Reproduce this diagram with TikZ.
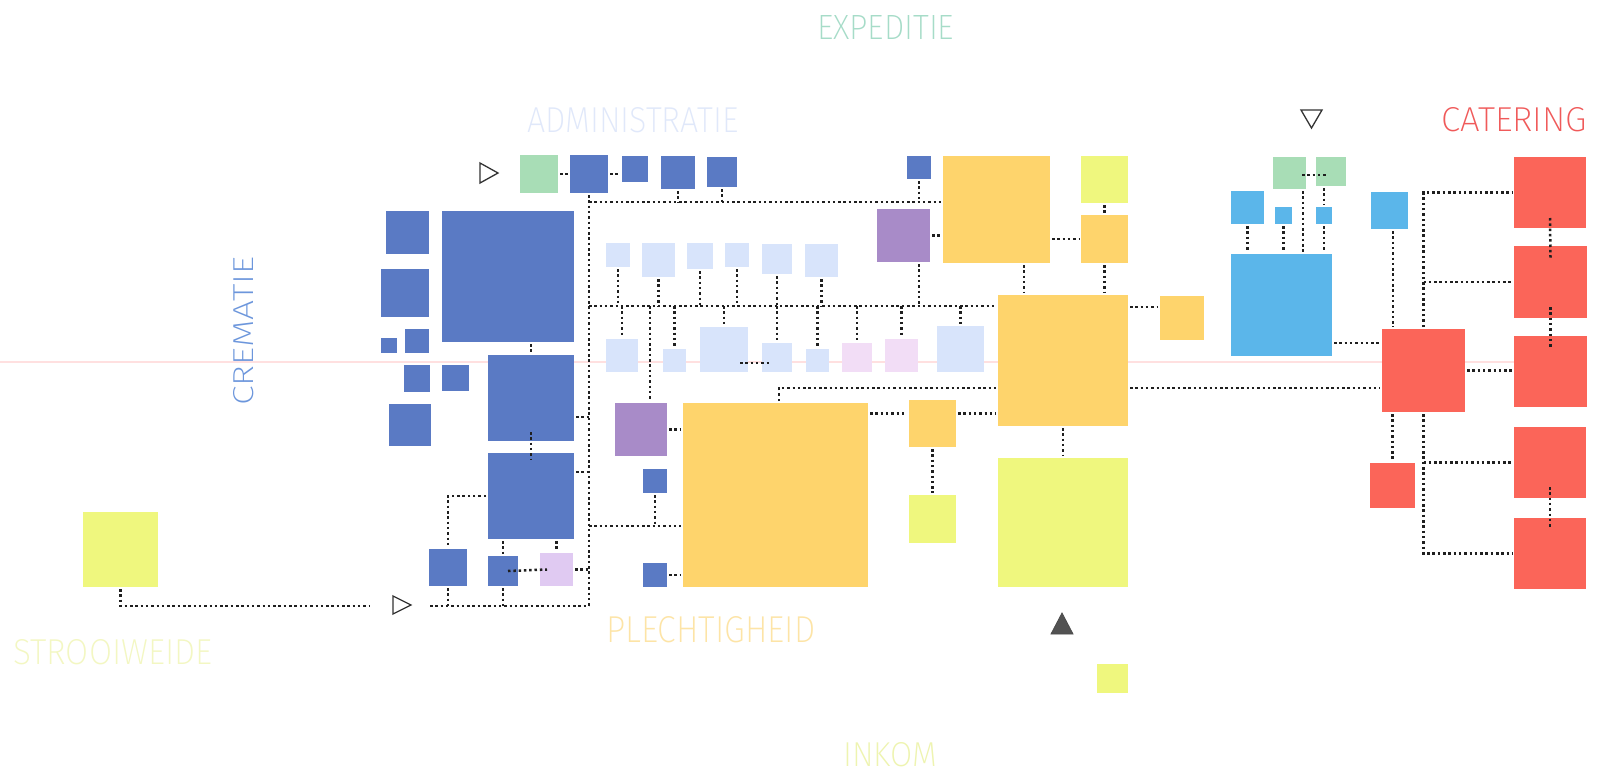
\documentclass[tikz,border=0pt]{standalone}
\usepackage{fontspec}
\usepackage{graphicx}
\IfFontExistsTF{Fira Sans ExtraLight}{\newfontfamily\lab{Fira Sans ExtraLight}}{%
 \IfFontExistsTF{Fira Sans Thin}{\newfontfamily\lab{Fira Sans Thin}}{%
  \IfFontExistsTF{Fira Sans Light}{\newfontfamily\lab{Fira Sans Light}}{\newfontfamily\lab{Fira Sans}}}}
\definecolor{cB}{HTML}{5A7AC4}
\definecolor{cG}{HTML}{A8DDB6}
\definecolor{cLB}{HTML}{D8E4FB}
\definecolor{cPk}{HTML}{F2DDF6}
\definecolor{cLav}{HTML}{E0CAF2}
\definecolor{cPu}{HTML}{A88BC8}
\definecolor{cY}{HTML}{FED46C}
\definecolor{cL}{HTML}{EFF77E}
\definecolor{cC}{HTML}{5BB6EA}
\definecolor{cR}{HTML}{FB6559}
\definecolor{tExp}{HTML}{A6DCC8}
\definecolor{tAdm}{HTML}{E0E8FA}
\definecolor{tCat}{HTML}{F05A5A}
\definecolor{tCre}{HTML}{6C96DC}
\definecolor{tPle}{HTML}{FDE4A6}
\definecolor{tStr}{HTML}{F3F7C2}
\definecolor{tInk}{HTML}{EEF4B0}
\tikzset{
  box/.style={rectangle, inner sep=0pt, outer sep=2pt, draw=none, anchor=north west},
  dl/.style={line width=2.5pt, dash pattern=on 2.5pt off 2.8pt, draw=black!88},
  tri/.style={draw=black!80, line width=1.3pt, fill=white, line join=miter},
  lbl/.style={inner sep=0pt, anchor=base west},
}
\newcommand\bx[6]{\node[box, fill=#6, minimum width=#4pt-#2pt, minimum height=#5pt-#3pt] (#1) at ({#2-2},{#3-2}) {};}
\begin{document}
\begin{tikzpicture}[x=1pt,y=-1pt]
\useasboundingbox (0,0) rectangle (1603,774);
\fill[white] (0,0) rectangle (1603,774);
% faint scan line
\draw[line width=1.2pt, draw=red!20, opacity=0.6] (0,362) -- (1570,362);
% ---- labels
\node[lbl, text=tExp] (lExp) at (817,39) {\resizebox{137pt}{24pt}{\lab EXPEDITIE}};
\node[lbl, text=tAdm] (lAdm) at (527,132) {\resizebox{211pt}{25pt}{\lab ADMINISTRATIE}};
\node[lbl, text=tCat] (lCat) at (1441,131) {\resizebox{146pt}{24pt}{\lab CATERING}};
\node[lbl, text=tCre, rotate=90] (lCre) at (253,406) {\resizebox{149pt}{20pt}{\lab CREMATIE}};
\node[lbl, text=tPle] (lPle) at (606,642) {\resizebox{209pt}{26pt}{\lab PLECHTIGHEID}};
\node[lbl, text=tStr] (lStrw) at (13,664) {\resizebox{199pt}{25pt}{\lab STROOIWEIDE}};
\node[lbl, text=tInk] (lInk) at (843,766) {\resizebox{94pt}{24pt}{\lab INKOM}};
% ---- boxes: crematie / administratie
\bx{g0}{520}{155}{558}{193}{cG}
\bx{b1}{570}{155}{608}{193}{cB}
\bx{b2}{622}{156}{648}{182}{cB}
\bx{b3}{661}{156}{695}{189}{cB}
\bx{b4}{707}{157}{737}{187}{cB}
\bx{bL1}{386}{211}{429}{254}{cB}
\bx{bL2}{381}{269}{429}{317}{cB}
\bx{bBig}{442}{211}{574}{342}{cB}
\bx{bS1}{381}{338}{397}{353}{cB}
\bx{bS2}{405}{329}{429}{353}{cB}
\bx{bS3}{404}{365}{430}{392}{cB}
\bx{bS4}{442}{365}{469}{391}{cB}
\bx{bS5}{389}{404}{431}{446}{cB}
\bx{bMid}{488}{355}{574}{441}{cB}
\bx{bLow}{488}{453}{574}{539}{cB}
\bx{bB1}{429}{549}{467}{586}{cB}
\bx{bB2}{488}{556}{518}{586}{cB}
\bx{p0}{540}{553}{573}{586}{cLav}
\bx{bC1}{643}{469}{667}{493}{cB}
\bx{bC2}{643}{563}{667}{587}{cB}
\bx{bT}{907}{156}{931}{179}{cB}
\bx{lStr}{83}{512}{158}{587}{cL}
% light blue rows
\bx{t1}{606}{243}{630}{267}{cLB}
\bx{t2}{642}{243}{675}{277}{cLB}
\bx{t3}{687}{243}{713}{269}{cLB}
\bx{t4}{725}{243}{749}{267}{cLB}
\bx{t5}{762}{244}{792}{274}{cLB}
\bx{t6}{805}{244}{838}{277}{cLB}
\bx{r1}{606}{339}{638}{372}{cLB}
\bx{r2}{663}{349}{686}{372}{cLB}
\bx{r3}{700}{327}{748}{372}{cLB}
\bx{r4}{762}{343}{792}{372}{cLB}
\bx{r5}{806}{349}{829}{372}{cLB}
\bx{r6}{842}{343}{872}{372}{cPk}
\bx{r7}{885}{339}{918}{372}{cPk}
\bx{r8}{937}{326}{984}{372}{cLB}
% purple
\bx{pu1}{877}{209}{930}{262}{cPu}
\bx{pu2}{615}{403}{667}{456}{cPu}
% plechtigheid
\bx{yTop}{943}{156}{1050}{263}{cY}
\bx{lTop}{1081}{156}{1128}{203}{cL}
\bx{ySm}{1081}{215}{1128}{263}{cY}
\bx{yC}{998}{295}{1128}{426}{cY}
\bx{yR}{1160}{296}{1204}{340}{cY}
\bx{yBig}{683}{403}{868}{587}{cY}
\bx{yS2}{909}{400}{956}{447}{cY}
\bx{lS}{909}{495}{956}{543}{cL}
\bx{lBig}{998}{458}{1128}{587}{cL}
\bx{lInkB}{1097}{664}{1128}{693}{cL}
% expeditie / catering
\bx{g1}{1273}{157}{1306}{189}{cG}
\bx{g2}{1316}{157}{1346}{186}{cG}
\bx{c1}{1231}{191}{1264}{224}{cC}
\bx{c2}{1275}{207}{1292}{224}{cC}
\bx{c3}{1316}{207}{1332}{224}{cC}
\bx{cBig}{1231}{254}{1332}{356}{cC}
\bx{c4}{1371}{192}{1408}{229}{cC}
\bx{rC}{1382}{329}{1465}{412}{cR}
\bx{rS}{1370}{463}{1415}{508}{cR}
\bx{rr1}{1514}{157}{1586}{228}{cR}
\bx{rr2}{1514}{246}{1587}{318}{cR}
\bx{rr3}{1514}{336}{1587}{407}{cR}
\bx{rr4}{1514}{427}{1586}{498}{cR}
\bx{rr5}{1514}{518}{1586}{589}{cR}
% ---- triangles
\draw[tri] (480,163) -- (480,183) -- (498,173) -- cycle;
\draw[tri] (393,596) -- (393,614) -- (411,605) -- cycle;
\draw[tri] (1301,110) -- (1322,110) -- (1311.5,128) -- cycle;
\draw[draw=black!70, fill=black!68, line width=0.8pt, line join=miter] (1051,634) -- (1073,634) -- (1062,613) -- cycle;
% ---- coordinates
\coordinate (h1) at (589,202);
\coordinate (h2) at (589,306);
\coordinate (h3) at (779,388);
\coordinate (h5) at (589,526);
\coordinate (cA) at (589,606);
\coordinate (cL) at (430,606);
\coordinate (cS) at (370,606);
% ---- connectors: administratie / crematie
\draw[dl] (g0.east) -- (g0.east -| b1.west);
\draw[dl] (b1.east) -- (b1.east -| b2.west);
\draw[dl] (b1.south) -- (cA);
\draw[dl] (h1) -- (h1 -| yTop.west);
\draw[dl] (b3.south) -- (b3.south |- h1);
\draw[dl] (b4.south) -- (b4.south |- h1);
\draw[dl] (bT.south) -- (bT.south |- h1);
\draw[dl] (h2) -- (h2 -| yC.west);
\foreach \t in {t1,t2,t3,t4,t5,t6} {\draw[dl] (\t.south) -- (\t.south |- h2);}
\draw[dl] ([xshift=15.5pt]pu1.south) -- ([xshift=15.5pt]pu1.south |- h2);
\foreach \r in {r1,r2,r3,r4,r5,r6,r7,r8} {\draw[dl] (h2 -| \r.north) -- (\r.north);}
\draw[dl] (h2 -| 650,0) -- ([xshift=9pt]pu2.north);
\draw[dl] ([xshift=-10pt,yshift=-13.5pt]r3.east) -- ++(30,0);
\draw[dl] ([yshift=-19pt]bMid.east) -- ([yshift=-19pt]bMid.east -| b1.south);
\draw[dl] ([yshift=24pt]bLow.east) -- ([yshift=24pt]bLow.east -| b1.south);
\draw[dl] (p0.east) -- (p0.east -| b1.south);
\draw[dl] (bMid.north |- bBig.south) -- (bMid.north);
\draw[dl] ([yshift=11pt]bMid.south) -- ([yshift=-9pt]bLow.north);
\draw[dl] (bLow.west) -- (bLow.west -| bB1.north) -- (bB1.north);
\draw[dl] (bB2.north |- bLow.south) -- (bB2.north);
\draw[dl] (p0.north |- bLow.south) -- (p0.north);
\draw[dl] ([xshift=-12pt]bB2.east) -- ([xshift=9pt]p0.west);
\draw[dl] (bB1.south) -- (bB1.south |- cA);
\draw[dl] (bB2.south) -- (bB2.south |- cA);
\draw[dl] (cL) -- (cA);
\draw[dl] (lStr.south) -- (lStr.south |- cS) -- (cS);
\draw[dl] (bC1.south) -- (bC1.south |- h5);
\draw[dl] (h5) -- (h5 -| yBig.west);
\draw[dl] (pu2.east) -- (pu2.east -| yBig.west);
\draw[dl] (bC2.east) -- (bC2.east -| yBig.west);
% ---- plechtigheid
\draw[dl] (pu1.east) -- (pu1.east -| yTop.west);
\draw[dl] (yTop.east |- ySm.west) -- (ySm.west);
\draw[dl] (lTop.south) -- (ySm.north);
\draw[dl] ([xshift=27.5pt]yTop.south) -- ([xshift=27.5pt]yTop.south |- yC.north);
\draw[dl] (ySm.south) -- (ySm.south |- yC.north);
\draw[dl] ([yshift=11pt]yR.west -| yC.east) -- ([yshift=11pt]yR.west);
\draw[dl] (yBig.north -| h3) -- (h3) -- (h3 -| yC.west);
\draw[dl] (yC.east |- h3) -- (h3 -| rC.west);
\draw[dl] ([yshift=10pt]yS2.west -| yBig.east) -- ([yshift=10pt]yS2.west);
\draw[dl] ([yshift=10pt]yS2.east) -- ([yshift=10pt]yS2.east -| yC.west);
\draw[dl] (yS2.south) -- (lS.north);
\draw[dl] (yC.south) -- (lBig.north);
% ---- expeditie / catering
\draw[dl] ([xshift=-6pt,yshift=-2pt]g1.east) -- ([xshift=12pt,yshift=-2pt]g1.east -| g2.west);
\draw[dl] ([xshift=13.5pt]g1.south) -- ([xshift=13.5pt]g1.south |- cBig.north);
\draw[dl] (c3.north |- g2.south) -- (c3.north);
\draw[dl] (c3.south) -- (c3.south |- cBig.north);
\draw[dl] (c2.south) -- (c2.south |- cBig.north);
\draw[dl] (c1.south) -- (c1.south |- cBig.north);
\draw[dl] ([xshift=3.5pt]c4.south) -- ([xshift=3.5pt]c4.south |- rC.north);
\draw[dl] ([yshift=27.5pt]rC.west -| cBig.east) -- ([yshift=27.5pt]rC.west);
\draw[dl] (rC.north) -- (rC.north |- rr1.west) -- (rr1.west);
\draw[dl] (rC.north |- rr2.west) -- (rr2.west);
\draw[dl] ([yshift=12pt]rr1.south) -- ([yshift=-14pt]rr2.north);
\draw[dl] ([yshift=13pt]rr2.south) -- ([yshift=-13pt]rr3.north);
\draw[dl] (rC.east) -- (rC.east -| rr3.west);
\draw[dl] (rS.north |- rC.south) -- (rS.north);
\draw[dl] (rC.south) -- (rC.south |- rr5.west) -- (rr5.west);
\draw[dl] (rC.south |- rr4.west) -- (rr4.west);
\draw[dl] ([yshift=13pt]rr4.south) -- ([yshift=-11pt]rr5.north);
\end{tikzpicture}
\end{document}
